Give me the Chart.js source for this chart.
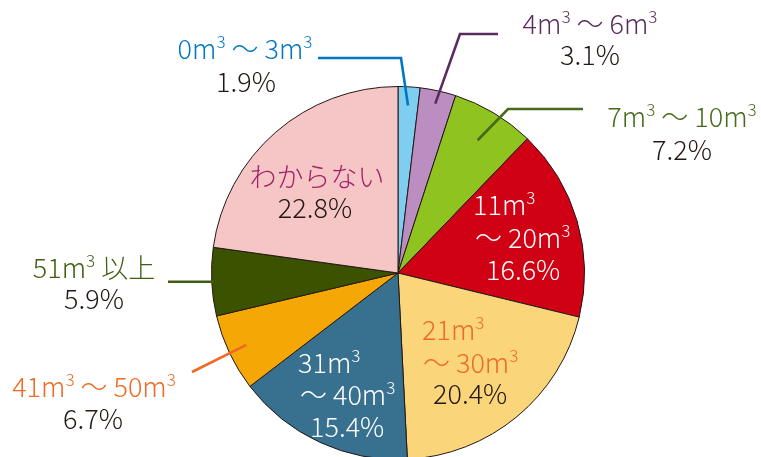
<!DOCTYPE html>
<html>
<head>
<meta charset="utf-8">
<script src="https://cdn.jsdelivr.net/npm/chart.js@4"></script>
<style>
  html, body { margin: 0; padding: 0; background: #fff; overflow: hidden; }
</style>
</head>
<body>
<canvas id="pie" width="761" height="460"></canvas>
<script>
// slice names ("^3" = superscript 3, "\n" = line break inside the slice)
const categories = [
  "0m^3 〜 3m^3",
  "4m^3 〜 6m^3",
  "7m^3 〜 10m^3",
  "11m^3\n〜 20m^3",
  "21m^3\n〜 30m^3",
  "31m^3\n〜 40m^3",
  "41m^3 〜 50m^3",
  "51m^3 以上",
  "わからない"
];
const shares = [1.9, 3.1, 7.2, 16.6, 20.4, 15.4, 6.7, 5.9, 22.8];
const sliceColors = ["#7fcdf0", "#bb8dc1", "#8fc320", "#d00015", "#fbd57a", "#387190", "#f5a805", "#3b5300", "#f5c6c5"];
const nameColors = ["#0077c3", "#5a2b60", "#46691a", "#ffffff", "#ee6a25", "#ffffff", "#ee6a25", "#3e5e10", "#a3216b"];
const pctColors = ["#231815", "#231815", "#231815", "#ffffff", "#231815", "#ffffff", "#231815", "#231815", "#231815"];

// where each text line sits: [x, baseline, align] for name lines then the percentage
const textSpots = [
  [[245, 59, "center"], [246, 92, "center"]],
  [[590, 34, "center"], [590, 65, "center"]],
  [[682, 127, "center"], [682, 160, "center"]],
  [[473, 215, "left"], [475, 248, "left"], [486, 280, "left"]],
  [[422, 340, "left"], [423, 373, "left"], [433, 404, "left"]],
  [[298, 373, "left"], [300, 405, "left"], [310, 437, "left"]],
  [[94, 397, "center"], [93, 429, "center"]],
  [[94, 278, "center"], [94, 309, "center"]],
  [[317, 187, "center"], [315, 218, "center"]]
];
// leader lines: outer points, then the line runs into the slice to a fraction of the radius
// (y = null means "level with the point inside the slice")
const leaders = [
  { pts: [[318, 58], [401, 58]], frac: 0.9 },
  { pts: [[498, 34], [460, 34]], frac: 0.93 },
  { pts: [[583, 109], [508, 109]], frac: 0.83 },
  null, null, null,
  { pts: [[192, 372]], frac: 0.9 },
  { pts: [[168, null]], frac: 0.99 },
  null
];

const FONT = '"Noto Sans CJK JP", "Noto Sans", sans-serif';
const SIZE = 27;

function drawRich(ctx, text, x, y, align, color) {
  const parts = text.split(/(\^3)/).filter(s => s.length);
  const supSize = Math.round(SIZE * 0.62);
  let total = 0;
  const widths = parts.map(p => {
    ctx.font = "300 " + (p === "^3" ? supSize : SIZE) + "px " + FONT;
    const w = ctx.measureText(p === "^3" ? "3" : p).width;
    total += w;
    return w;
  });
  let cx = align === "center" ? x - total / 2 : x;
  ctx.fillStyle = color;
  ctx.textAlign = "left";
  ctx.textBaseline = "alphabetic";
  parts.forEach((p, i) => {
    if (p === "^3") {
      ctx.font = "300 " + supSize + "px " + FONT;
      ctx.fillText("3", cx, y - SIZE * 0.42);
    } else {
      ctx.font = "300 " + SIZE + "px " + FONT;
      ctx.fillText(p, cx, y);
    }
    cx += widths[i];
  });
}

const labelPlugin = {
  id: "sliceLabels",
  afterDatasetsDraw(chart) {
    const ctx = chart.ctx;
    const arcs = chart.getDatasetMeta(0).data;
    ctx.save();
    leaders.forEach((ld, i) => {
      if (!ld) return;
      const a = arcs[i];
      const mid = (a.startAngle + a.endAngle) / 2;
      const r = a.outerRadius * ld.frac;
      const inner = [a.x + Math.cos(mid) * r, a.y + Math.sin(mid) * r];
      const pts = ld.pts.map(p => [p[0], p[1] === null ? inner[1] : p[1]]);
      ctx.beginPath();
      ctx.moveTo(pts[0][0], pts[0][1]);
      for (let k = 1; k < pts.length; k++) ctx.lineTo(pts[k][0], pts[k][1]);
      ctx.lineTo(inner[0], inner[1]);
      ctx.strokeStyle = nameColors[i];
      ctx.lineWidth = 2.6;
      ctx.stroke();
    });
    categories.forEach((name, i) => {
      const lines = name.split("\n");
      const spots = textSpots[i];
      lines.forEach((ln, k) => drawRich(ctx, ln, spots[k][0], spots[k][1], spots[k][2], nameColors[i]));
      const ps = spots[lines.length];
      drawRich(ctx, shares[i].toFixed(1) + "%", ps[0], ps[1], ps[2], pctColors[i]);
    });
    ctx.restore();
  }
};

new Chart(document.getElementById("pie").getContext("2d"), {
  type: "pie",
  data: {
    labels: categories.map(c => c.replace(/\^3/g, "³").replace("\n", " ")),
    datasets: [{
      data: shares,
      backgroundColor: sliceColors,
      borderColor: "#231815",
      borderWidth: 1,
      hoverOffset: 0
    }]
  },
  options: {
    responsive: false,
    animation: false,
    events: [],
    layout: { padding: { left: 211, right: 176, top: 86, bottom: 0 } },
    plugins: {
      legend: { display: false },
      tooltip: { enabled: false }
    }
  },
  plugins: [labelPlugin]
});
</script>
</body>
</html>
